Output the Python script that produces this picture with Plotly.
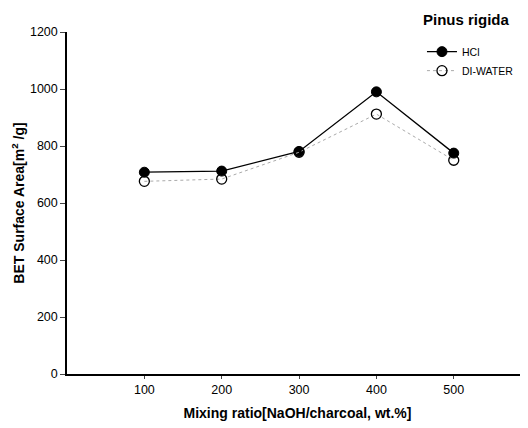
import plotly.graph_objects as go

ratios = [100, 200, 300, 400, 500]
hcl = [708, 712, 781, 990, 775]
di_water = [676, 684, 778, 912, 750]
y_ticks = [0, 200, 400, 600, 800, 1000, 1200]
x_ticks = [100, 200, 300, 400, 500]

fig = go.Figure()
fig.add_trace(go.Scatter(
    x=ratios, y=hcl, name="HCl", mode="lines+markers",
    line=dict(color="black", width=1.3),
    marker=dict(symbol="circle", size=10, color="black", line=dict(color="black", width=1)),
))
fig.add_trace(go.Scatter(
    x=ratios, y=di_water, name="DI-WATER", mode="lines+markers",
    line=dict(color="#aaaaaa", width=1, dash="dot"),
    marker=dict(symbol="circle-open", size=10, color="black", line=dict(width=1.3)),
))

font_family = "Liberation Sans, Arial, sans-serif"
fig.update_layout(
    width=520, height=420,
    margin=dict(l=59, r=0, t=24, b=54),
    paper_bgcolor="white", plot_bgcolor="white",
    font=dict(family=font_family, color="black", size=12),
    showlegend=True,
    legend=dict(x=0.77, y=0.985, xanchor="left", yanchor="top",
                bgcolor="rgba(0,0,0,0)", font=dict(size=10.5),
                itemwidth=30, tracegroupgap=0),
    xaxis=dict(range=[0, 596], tickvals=x_ticks, ticks="outside", ticklen=3,
               showgrid=False, zeroline=False, showline=True, linecolor="black",
               linewidth=1.5, tickfont=dict(size=12.5),
               title=dict(text="<b>Mixing ratio[NaOH/charcoal, wt.%]</b>",
                          font=dict(size=14), standoff=12)),
    yaxis=dict(range=[0, 1200], tickvals=y_ticks, ticks="outside", ticklen=5,
               showgrid=False, zeroline=False, showline=True, linecolor="black",
               linewidth=1.5, tickfont=dict(size=12.5),
               title=dict(text="<b>BET Surface Area[m<sup>2</sup> /g]</b>",
                          font=dict(size=14), standoff=2)),
    annotations=[dict(text="<b>Pinus rigida</b>", x=0.866, y=1.0 + 12/342,
                      xref="paper", yref="paper",
                      yanchor="middle", xanchor="center", showarrow=False,
                      font=dict(size=15))],
)
fig.write_html("out.html")
